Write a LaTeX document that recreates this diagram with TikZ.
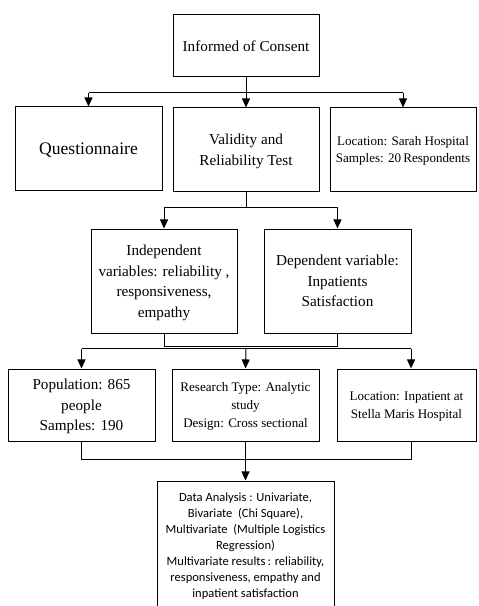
\documentclass[tikz,border=0pt]{standalone}
\usepackage{fontspec}
\setmainfont{Liberation Serif}
\newfontfamily\calib{Carlito}
\usetikzlibrary{arrows.meta,calc}
\begin{document}
\begin{tikzpicture}[x=0.75pt,y=-0.75pt,
  box/.style={draw,line width=0.75pt,align=center,inner sep=0pt,text depth=0pt},
  fa/.style={font=\fontsize{11.4}{15.4}\selectfont},
  fb/.style={font=\fontsize{9.8}{13.2}\selectfont},
  ln/.style={line width=0.75pt},
  arr/.style={line width=0.75pt,-{Triangle[width=6pt,length=6.8pt]}}]
\useasboundingbox (0,0) rectangle (478,606);
% nodes
\node[box,fa,minimum width=146*0.75pt,minimum height=62*0.75pt] (consent) at (246,46) {Informed of Consent};
\node[box,font=\fontsize{13.2}{16}\selectfont,minimum width=147*0.75pt,minimum height=83*0.75pt] (quest) at (88.5,148.5) {Questionnaire};
\node[box,fa,minimum width=146*0.75pt,minimum height=83*0.75pt] (valid) at (246,149.5) {Validity and\\Reliability Test};
\node[box,fb,minimum width=146*0.75pt,minimum height=83*0.75pt] (loca) at (403,149.5) {Location: Sarah Hospital\\Samples: 20\,Respondents};
\node[box,fa,minimum width=146*0.75pt,minimum height=104*0.75pt] (indep) at (164,281) {Independent\\variables: reliability ,\\responsiveness,\\empathy};
\node[box,fa,minimum width=147*0.75pt,minimum height=104*0.75pt] (dep) at (337.5,281) {Dependent variable:\\Inpatients\\Satisfaction};
\node[box,fa,minimum width=147*0.75pt,minimum height=72*0.75pt] (pop) at (81.5,405) {Population: 865\\people\\Samples: 190};
\node[box,fb,minimum width=147*0.75pt,minimum height=72*0.75pt] (res) at (245.5,405) {Research Type: Analytic\\study\\Design: Cross sectional};
\node[box,fb,minimum width=139*0.75pt,minimum height=72*0.75pt] (locb) at (406.5,405) {Location: Inpatient at\\Stella Maris Hospital};
\node[box,font={\calib\fontsize{9.4}{12}\selectfont},minimum width=177*0.75pt,minimum height=128*0.75pt] (data) at (245.5,545) {Data Analysis : Univariate,\\Bivariate\ \ (Chi Square),\\Multivariate\ \ (Multiple Logistics\\Regression)\\Multivariate results\,: reliability,\\responsiveness, empathy and\\inpatient satisfaction};
% coordinates
\coordinate (j1) at (246,93);
\coordinate (j2) at (246,207);
\coordinate (j3) at (246,346.5);
\coordinate (j4) at (246,348.5);
\coordinate (j5) at (246,459);
\coordinate (lbx) at ([xshift=3.4pt]locb.north);
\coordinate (lbs) at ([xshift=3.4pt]locb.south);
% connectors row 1
\draw[ln] (consent.south) -- (j1);
\draw[ln] (j1 -| quest) -- (j1 -| loca);
\draw[arr] (j1 -| quest) -- (quest.north);
\draw[arr] (j1) -- (valid.north);
\draw[arr] (j1 -| loca) -- (loca.north);
% row 2
\draw[ln] (valid.south) -- (j2);
\draw[ln] (j2 -| indep) -- (j2 -| dep);
\draw[arr] (j2 -| indep) -- (indep.north);
\draw[arr] (j2 -| dep) -- (dep.north);
% row 3
\draw[ln] (indep.south) -- (j3 -| indep) -- (j3 -| dep) -- (dep.south);
\draw[ln] (j4 -| pop) -- (j4 -| lbx);
\draw[arr] (j4 -| pop) -- (pop.north);
\draw[arr] (j4) -- (res.north);
\draw[arr] (j4 -| lbx) -- (lbx);
% row 4
\draw[ln] (pop.south) -- (j5 -| pop) -- (j5 -| lbs) -- (lbs);
\draw[arr] (res.south) -- (data.north);
\end{tikzpicture}
\end{document}
